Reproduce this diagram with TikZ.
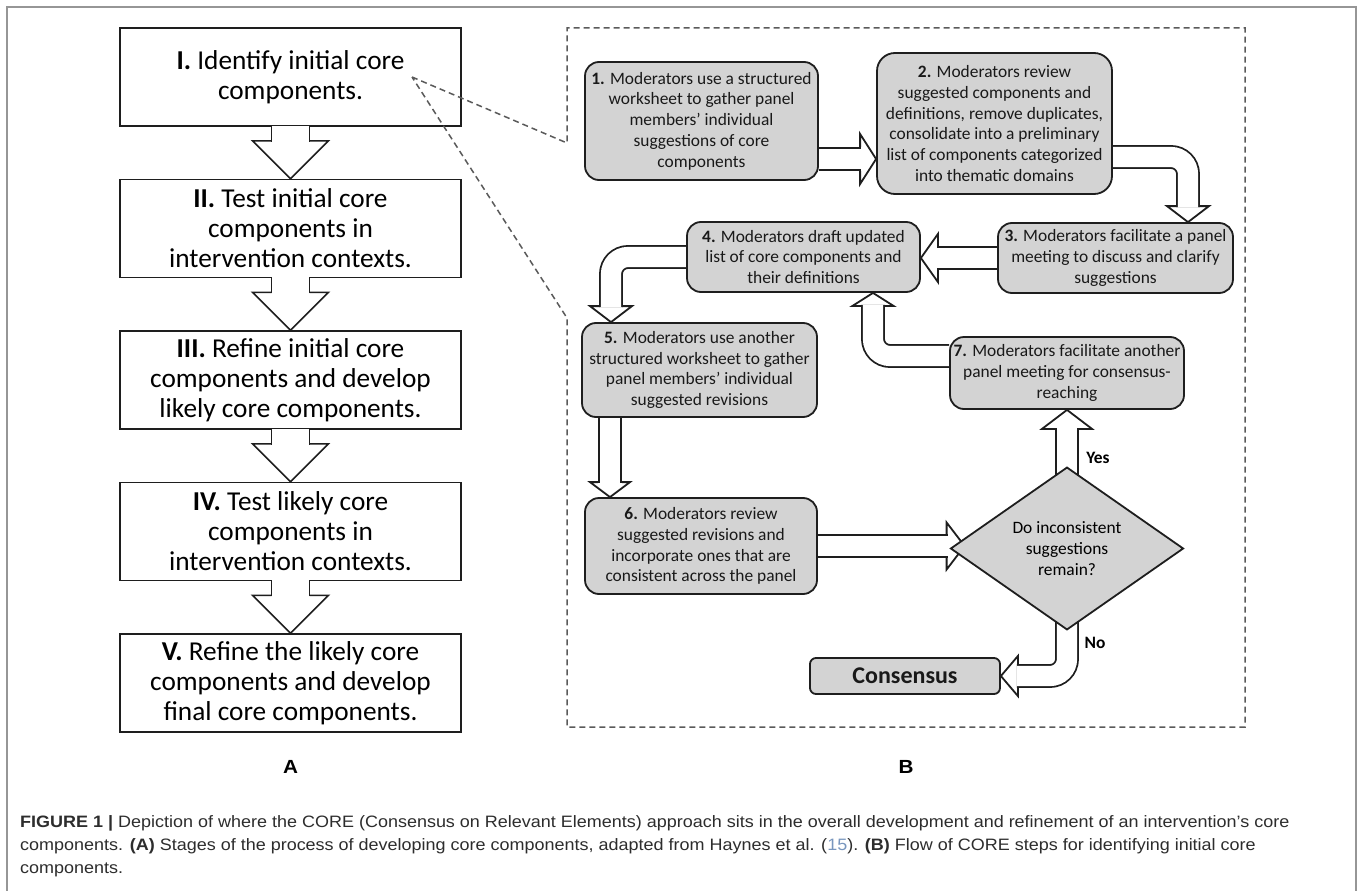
\documentclass[tikz,border=0pt]{standalone}
\usepackage{fontspec}
\setmainfont{Carlito}
\newfontfamily\capfont[FakeStretch=1.09]{Liberation Sans}
\usetikzlibrary{arrows.meta, positioning, shapes.geometric, calc, backgrounds}

\definecolor{BoxGray}{RGB}{211,211,211}
\definecolor{EdgeDark}{RGB}{30,30,30}
\definecolor{DashGray}{RGB}{90,90,90}
\definecolor{FrameGray}{RGB}{150,150,150}
\definecolor{CapText}{RGB}{45,45,45}
\definecolor{CiteBlue}{RGB}{120,150,190}

% hollow arrow head: [style]{tip}{back point}{stem half}{head half}{head length}
\newcommand{\blockhead}[6][arrline]{%
  \coordinate (hb) at ($(#2)!#6!(#3)$);
  \fill[white] ($(hb)!#5!90:(#2)$) -- (#2) -- ($(hb)!#5!-90:(#2)$) -- cycle;
  \draw[#1] ($(hb)!#4!90:(#2)$) -- ($(hb)!#5!90:(#2)$) -- (#2)
    -- ($(hb)!#5!-90:(#2)$) -- ($(hb)!#4!-90:(#2)$);
}
% straight hollow arrow: {head style}{tube style}{start}{tip}{stem half}{head half}{head length}
\newcommand{\blockarrow}[7]{%
  \blockhead[#1]{#4}{#3}{#5}{#6}{#7}
  \draw[#2] (#3) -- ($(hb)!1pt!(#4)$);
}

\begin{document}
\begin{tikzpicture}[x=1pt, y=-1pt]

\tikzset{
stage/.style={
draw=EdgeDark,
line width=1.5pt,
fill=white,
minimum width=341pt,
minimum height=98pt,
inner sep=0pt,
align=center,
font=\fontsize{27.3}{30}\selectfont
},
corestep/.style={
draw=EdgeDark,
line width=1.8pt,
fill=BoxGray,
rounded corners=14pt,
inner sep=0pt,
align=center,
text=black!90,
font=\fontsize{17.4}{20.8}\selectfont
},
decision/.style={
diamond,
draw=EdgeDark,
line width=1.8pt,
fill=BoxGray,
minimum width=233pt,
minimum height=127pt,
inner sep=0pt,
align=center,
font=\fontsize{17.4}{20.8}\selectfont
},
branch/.style={font=\bfseries\fontsize{17.4}{20}\selectfont, inner sep=0pt},
headA/.style={draw=EdgeDark, line width=1.5pt, line join=miter},
arrline/.style={draw=EdgeDark, line width=1.8pt, line join=miter},
tubeA/.style={draw=EdgeDark, line width=1.5pt, double=white, double distance=36.5pt},
tubeB/.style={draw=EdgeDark, line width=1.8pt, double=white, double distance=20.2pt, rounded corners=17pt},
zoomline/.style={DashGray, line width=1.5pt, dash pattern=on 6pt off 4pt},
panel/.style={font=\capfont\bfseries\fontsize{19}{22}\selectfont, inner sep=0pt},
caption/.style={font=\capfont\fontsize{16.5}{19}\selectfont, text=CapText, inner sep=0pt, anchor=base west}
}

\useasboundingbox (0,0) rectangle (1358,891);
\begin{scope}[on background layer]
\fill[white] (0,0) rectangle (1358,891);
\end{scope}
\draw[FrameGray, line width=1.2pt] (7,891) -- (7,7) -- (1356,7) -- (1356,891);

% A: stages
\node[stage] (s1) at (290.5,77) {\textbf{I.} Identify initial core\\components.};
\node[stage, below=52pt of s1] (s2) {\textbf{II.} Test initial core\\components in\\intervention contexts.};
\node[stage, below=52pt of s2] (s3) {\textbf{III.} Refine initial core\\components and develop\\likely core components.};
\node[stage, below=52pt of s3] (s4) {\textbf{IV.} Test likely core\\components in\\intervention contexts.};
\node[stage, below=52pt of s4] (s5) {\textbf{V.} Refine the likely core\\components and develop\\final core components.};

\foreach \a/\b in {s1/s2, s2/s3, s3/s4, s4/s5} {
\coordinate (st) at ([yshift=1pt]\a.south);
\blockarrow{headA}{tubeA}{st}{\b.north}{19pt}{38pt}{38pt}
}

\node[panel] (la) at (290.5,767) {A};

% B: CORE steps
\node[corestep, minimum width=233pt, minimum height=118pt] (b1) at (701.5,121)
{\textbf{1.} Moderators use a structured\\worksheet to gather panel\\members’ individual\\suggestions of core\\components};
\node[corestep, minimum width=235pt, minimum height=141pt, rounded corners=18pt] (b2) at (994.5,123.5)
{\textbf{2.} Moderators review\\suggested components and\\definitions, remove duplicates,\\consolidate into a preliminary\\list of components categorized\\into thematic domains};
\node[corestep, minimum width=235pt, minimum height=70pt] (b3) at (1115.5,258)
{\textbf{3.} Moderators facilitate a panel\\meeting to discuss and clarify\\suggestions};
\node[corestep, minimum width=233pt, minimum height=70pt] (b4) at (803.5,257)
{\textbf{4.} Moderators draft updated\\list of core components and\\their definitions};
\node[corestep, minimum width=235pt, minimum height=94pt] (b5) at (699.5,370)
{\textbf{5.} Moderators use another\\structured worksheet to gather\\panel members’ individual\\suggested revisions};
\node[corestep, minimum width=232pt, minimum height=96pt] (b6) at (701,546)
{\textbf{6.} Moderators review\\suggested revisions and\\incorporate ones that are\\consistent across the panel};
\node[corestep, minimum width=234pt, minimum height=72pt] (b7) at (1067,373)
{\textbf{7.} Moderators facilitate another\\panel meeting for consensus-\\reaching};
\node[decision] (dq) at (1067,548.5) {Do inconsistent\\suggestions\\remain?};
\node[corestep, minimum width=190pt, minimum height=36pt, rounded corners=6pt,
font=\bfseries\fontsize{24}{28}\selectfont] (cons) at (905,676) {Consensus};

\node[branch] (yes) at (1098,458) {Yes};
\node[branch] (no) at (1095,643) {No};

\begin{scope}[on background layer]
\coordinate (c12s) at ([yshift=-38pt]b1.east);
\coordinate (c12t) at (b2.west |- c12s);
\blockarrow{arrline}{tubeB}{c12s}{c12t}{12pt}{25pt}{16pt}

\coordinate (c23s) at ([yshift=-33.5pt]b2.east);
\coordinate (c23t) at ([xshift=72.5pt]b3.north);
\coordinate (c23k) at (c23t |- c23s);
\blockhead{c23t}{c23k}{10pt}{21pt}{16pt}
\draw[tubeB] (c23s) -| ($(hb)!1pt!(c23t)$);

\coordinate (c34t) at (b4.east |- b3.west);
\blockarrow{arrline}{tubeB}{b3.west}{c34t}{12pt}{24pt}{17pt}

\coordinate (c45t) at ([xshift=-88.5pt]b5.north);
\coordinate (c45k) at (c45t |- b4.west);
\blockhead{c45t}{c45k}{11pt}{21pt}{16pt}
\draw[tubeB] (b4.west) -| ($(hb)!1pt!(c45t)$);

\coordinate (c56s) at ([xshift=-89.5pt]b5.south);
\coordinate (c56t) at (c56s |- b6.north);
\blockarrow{arrline}{tubeB}{c56s}{c56t}{12pt}{20pt}{15pt}

\coordinate (c6d) at ($(dq.west |- b6.east)+(15,0)$);
\blockarrow{arrline}{tubeB}{b6.east}{c6d}{12pt}{23.5pt}{18pt}

\coordinate (cys) at ([yshift=-10pt]dq.north);
\blockarrow{arrline}{tubeB}{cys}{b7.south}{11.5pt}{25pt}{19pt}

\coordinate (c74s) at ([yshift=17pt]b7.west);
\coordinate (c74t) at ([xshift=69.5pt]b4.south);
\coordinate (c74k) at (c74t |- c74s);
\blockhead{c74t}{c74k}{10pt}{20.5pt}{13pt}
\draw[tubeB] (c74s) -| ($(hb)!1pt!(c74t)$);

\coordinate (cns) at ([yshift=10pt]dq.south);
\coordinate (cnk) at (cns |- cons.east);
\blockhead{cons.east}{cnk}{10.5pt}{20pt}{17pt}
\draw[tubeB] (cns) |- ($(hb)!1pt!(cons.east)$);
\end{scope}

% zoom frame round B
\coordinate (zoomtip) at ([xshift=121.5pt]s1.center);
\draw[zoomline] (zoomtip) -- (567,143) -- (567,28) -- (1245,28) -- (1245,727)
-- (567,727) -- (567,318) -- cycle;

\node[panel] (lb) at (906,767) {B};

% caption
\node[caption] (cap1) at (20,827) {\textbf{FIGURE 1 |} Depiction of where the CORE (Consensus on Relevant Elements) approach sits in the overall development and refinement of an intervention’s core};
\node[caption] (cap2) at (20,850) {components. \textbf{(A)} Stages of the process of developing core components, adapted from Haynes et al. ({\color{CiteBlue}15}). \textbf{(B)} Flow of CORE steps for identifying initial core};
\node[caption] (cap3) at (20,873) {components.};

\end{tikzpicture}
\end{document}
